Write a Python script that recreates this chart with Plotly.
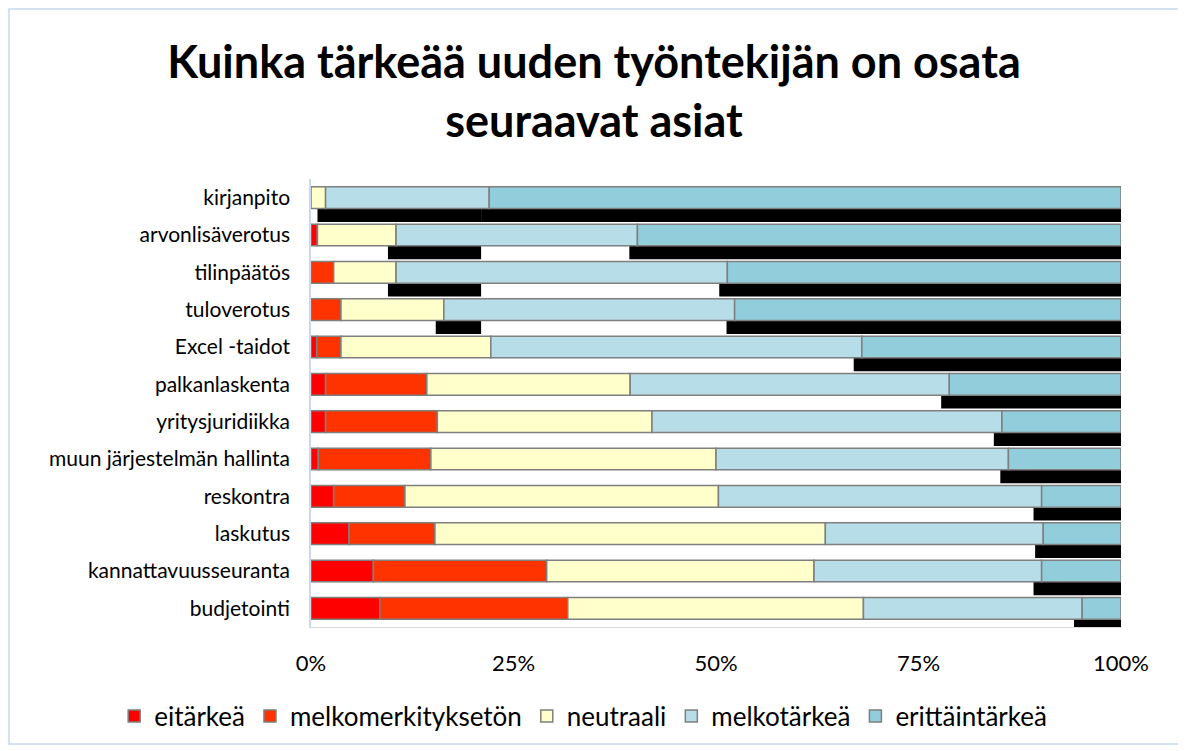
import numpy as np
import plotly.graph_objects as go

# Categories, top to bottom
categories = ["kirjanpito", "arvonlisäverotus", "tilinpäätös", "tuloverotus",
              "Excel -taidot", "palkanlaskenta", "yritysjuridiikka",
              "muun järjestelmän hallinta", "reskontra", "laskutus",
              "kannattavuusseuranta", "budjetointi"]

# Shares of answers (%)
eitarkea = [0.0, 0.8, 0.0, 0.0, 0.7, 1.8, 1.8, 0.9, 2.8, 4.7, 7.7, 8.5]
melkomerkityksetön = [0.0, 0.0, 2.8, 3.7, 3.0, 12.5, 13.8, 13.9, 8.8, 10.6, 21.4, 23.2]
neutraali = [1.8, 9.7, 7.7, 12.7, 18.5, 25.1, 26.5, 35.2, 38.7, 48.2, 33.0, 36.5]
melkotarkea = [20.2, 29.8, 40.9, 35.9, 45.8, 39.4, 43.2, 36.1, 39.9, 26.9, 28.1, 27.0]
erittaintarkea = [78.0, 59.7, 48.6, 47.7, 32.0, 21.2, 14.7, 13.9, 9.8, 9.6, 9.8, 4.8]

series = [
    ("eitärkeä", eitarkea, "#FF0000"),
    ("melkomerkityksetön", melkomerkityksetön, "#FF3300"),
    ("neutraali", neutraali, "#FFFFCC"),
    ("melkotärkeä", melkotarkea, "#B7DEE8"),
    ("erittäintärkeä", erittaintarkea, "#92CDDC"),
]

FONT = "Lato"
W, H = 1172, 737
L, R, T, B = 303, 59, 171, 118
pw, ph = W - L - R, H - T - B

ypos = np.arange(len(categories))
bar_w = 0.58
sh_dx = 1.0    # shadow shift left (%)
sh_dy = 0.36   # shadow shift down (category units)

# cumulative starts for each series
starts = []
acc = np.zeros(len(categories))
for name, vals, col in series:
    starts.append(acc.copy())
    acc = acc + np.array(vals)

fig = go.Figure()

# black drop shadows behind the two "important" series
mt_start = starts[3]
mt_end = starts[3] + np.array(melkotarkea)
clip = mt_end[0] - sh_dx
sh_end = np.minimum(mt_end - sh_dx, clip)
sh_base = mt_start - sh_dx
fig.add_trace(go.Bar(
    y=ypos, x=np.clip(sh_end - sh_base, 0, None), base=sh_base, orientation="h",
    width=bar_w, offset=-bar_w / 2 + sh_dy, marker=dict(color="black", line_width=0),
    showlegend=False, hoverinfo="skip"))
et_start = starts[4]
fig.add_trace(go.Bar(
    y=ypos, x=100 - (et_start - sh_dx), base=et_start - sh_dx, orientation="h",
    width=bar_w, offset=-bar_w / 2 + sh_dy, marker=dict(color="black", line_width=0),
    showlegend=False, hoverinfo="skip"))

for (name, vals, col), st in zip(series, starts):
    fig.add_trace(go.Bar(
        name=name, y=ypos, x=vals, base=st, orientation="h",
        width=bar_w, offset=-bar_w / 2,
        marker=dict(color=col, line=dict(color="#7F7F7F", width=1.5)),
    ))

fig.update_layout(
    width=W, height=H,
    barmode="overlay",
    paper_bgcolor="white", plot_bgcolor="white",
    margin=dict(l=L, r=R, t=T, b=B, autoexpand=False),
    font=dict(family=FONT, size=18, color="black"),
    title=dict(text="<b>Kuinka tärkeää uuden työntekijän on osata<br>seuraavat asiat</b>",
               x=0.5, xanchor="center", xref="container", y=1 - 70 / H, yanchor="middle",
               font=dict(family=FONT, size=45, color="black")),
    legend=dict(orientation="h", x=-0.243, xanchor="left",
                y=-89 / ph, yanchor="middle", font=dict(size=26),
                traceorder="normal", itemwidth=30, bgcolor="rgba(0,0,0,0)"),
    xaxis=dict(range=[0, 100], tickvals=[0, 25, 50, 75, 100],
               ticktext=["0%", "25%", "50%", "75%", "100%"],
               showgrid=False, zeroline=False, showline=True, linecolor="#D9D9D9",
               linewidth=1, ticks="", ticklabelstandoff=17, tickfont=dict(size=22)),
    yaxis=dict(range=[11.5, -0.5], tickvals=ypos, ticktext=categories,
               showgrid=False, zeroline=False, showline=True, linecolor="#C6D9F1",
               linewidth=1.5, ticks="", ticklabelstandoff=15, tickfont=dict(size=21)),
    shapes=[dict(type="rect", xref="paper", yref="paper",
                 x0=(-L + 1) / pw, x1=1 + (R - 1) / pw,
                 y0=(-B + 1) / ph, y1=1 + (T - 1) / ph,
                 line=dict(color="#C6D9F1", width=1.5), layer="below")],
)

fig.write_html("out.html")
